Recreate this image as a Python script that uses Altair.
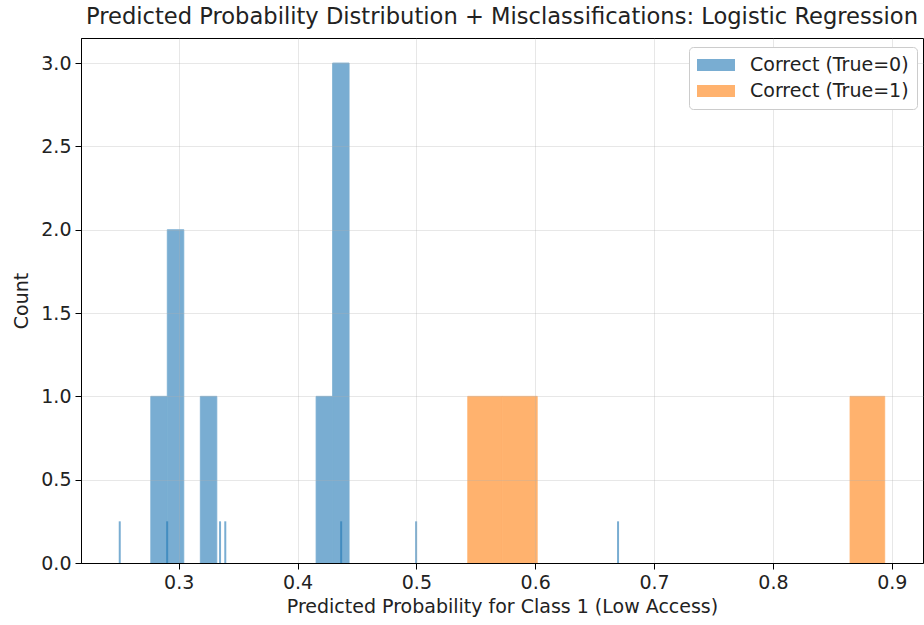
import altair as alt
import pandas as pd

# Histogram bins (left edge, right edge, count) for correctly classified samples
class0_lo = [0.2765, 0.2904, 0.3182, 0.4156, 0.4295]
class0_hi = [0.2904, 0.3043, 0.3321, 0.4295, 0.4434]
class0_count = [1, 2, 1, 1, 3]

class1_lo = [0.5432, 0.5724, 0.8649]
class1_hi = [0.5724, 0.6017, 0.8941]
class1_count = [1, 1, 1]

# Predicted probabilities of the misclassified samples (rug marks)
misclassified = [0.2504, 0.2903, 0.3348, 0.3392, 0.4367, 0.4998, 0.6697]

series = ["Correct (True=0)", "Correct (True=1)"]
# tab:blue / tab:orange at 60% opacity over white
colors = ["#79add2", "#ffb26e"]

bars = pd.DataFrame({
    "lo": class0_lo + class1_lo,
    "hi": class0_hi + class1_hi,
    "count": class0_count + class1_count,
    "series": [series[0]] * len(class0_lo) + [series[1]] * len(class1_lo),
})
rug = pd.DataFrame({"p": misclassified})

FONT = "DejaVu Sans"
x_scale = alt.Scale(domain=[0.2178, 0.9263], nice=False, zero=False)
y_scale = alt.Scale(domain=[0, 3.15], nice=False)

x_axis = alt.Axis(
    title="Predicted Probability for Class 1 (Low Access)",
    values=[0.3, 0.4, 0.5, 0.6, 0.7, 0.8, 0.9], format=".1f",
    tickSize=6, labelPadding=4, titlePadding=5, zindex=1,
)
y_axis = alt.Axis(
    title="Count", values=[0, 0.5, 1, 1.5, 2, 2.5, 3], format=".1f",
    tickSize=6, labelPadding=4, titlePadding=9, zindex=1,
)

hist = alt.Chart(bars).mark_bar(strokeWidth=0.8).encode(
    x=alt.X("lo:Q", scale=x_scale, axis=x_axis),
    x2="hi:Q",
    y=alt.Y("count:Q", scale=y_scale, axis=y_axis),
    y2=alt.datum(0),
    color=alt.Color(
        "series:N",
        scale=alt.Scale(domain=series, range=colors),
        legend=alt.Legend(
            title=None, orient="none", legendX=608, legendY=9, zindex=2,
            symbolType="M-1.9,-0.6H1.9V0.6H-1.9Z", symbolSize=400,
            symbolStrokeWidth=0, symbolOffset=9,
            labelOffset=24, labelFontSize=19, labelFont=FONT, labelColor="#222222",
            rowPadding=6, padding=8, cornerRadius=4,
            strokeColor="#cccccc", fillColor="white",
        ),
    ),
    stroke=alt.Color("series:N", scale=alt.Scale(domain=series, range=colors), legend=None),
)

rugs = alt.Chart(rug).mark_rule(color="#1f77b4", opacity=0.6, strokeWidth=2).encode(
    x=alt.X("p:Q", scale=x_scale),
    y=alt.datum(0, scale=y_scale),
    y2=alt.datum(0.25),
)

chart = alt.layer(hist, rugs).properties(
    width=842, height=525,
    background="white",
    title=alt.Title(
        "Predicted Probability Distribution + Misclassifications: Logistic Regression",
        font=FONT, fontSize=22.6, fontWeight="normal", color="#222222",
        anchor="middle", offset=9,
    ),
    autosize=alt.AutoSizeParams(type="none"),
    padding={"left": 81, "top": 38, "right": 1, "bottom": 62},
).configure_view(
    stroke="black", strokeWidth=1,
).configure_axis(
    labelFont=FONT, titleFont=FONT, labelFontSize=19, titleFontSize=19,
    labelColor="#222222", titleColor="#222222", titleFontWeight="normal",
    domainColor="black", tickColor="black", domainWidth=1,
    gridColor="#b0b0b0", gridOpacity=0.3, gridWidth=1,
)

chart.save("out.html", embed_options={"renderer": "svg", "actions": False})
